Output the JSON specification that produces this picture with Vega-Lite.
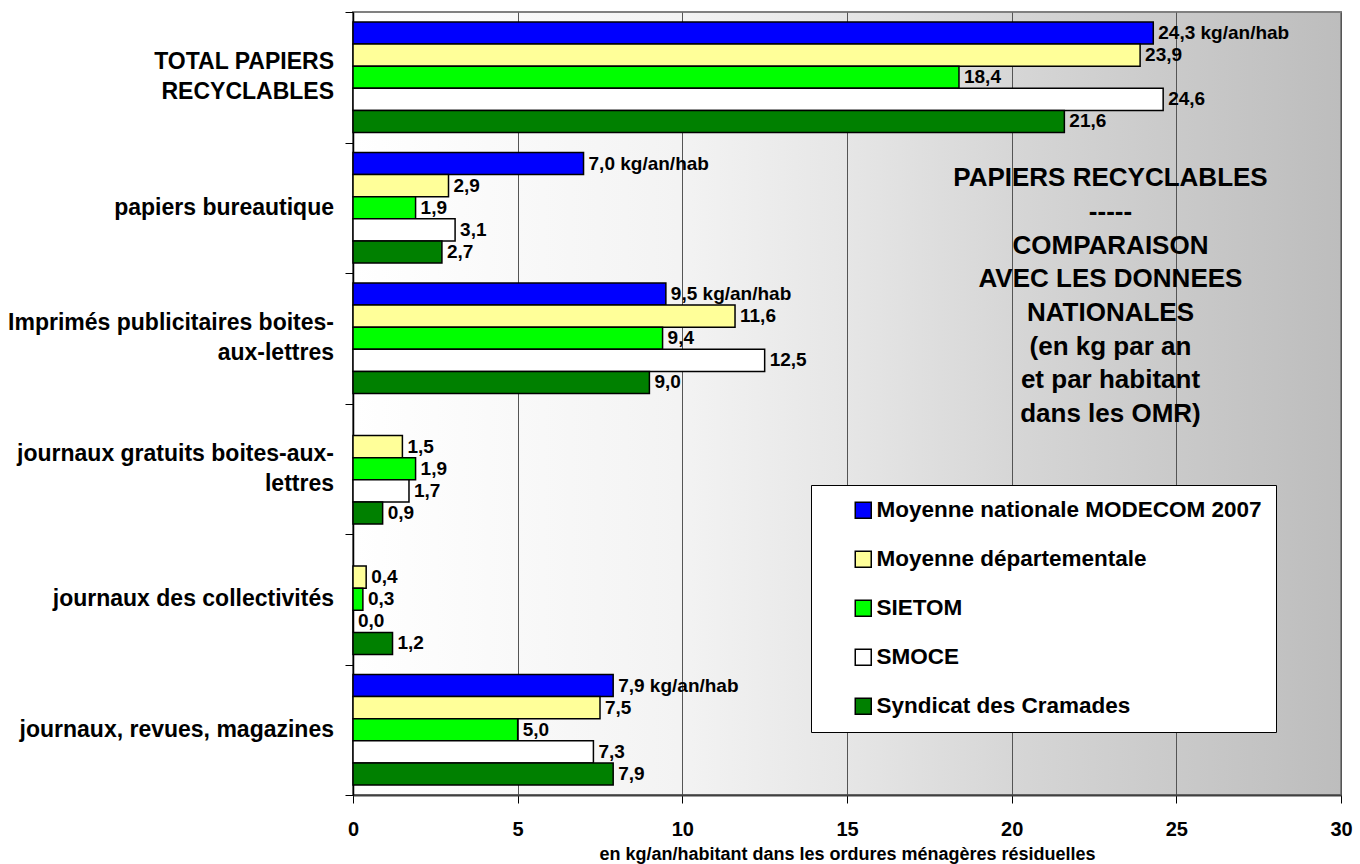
{
  "$schema": "https://vega.github.io/schema/vega-lite/v6.json",
  "width": 988,
  "height": 783,
  "autosize": {"type": "none"},
  "padding": {"left": 353, "top": 12, "right": 19, "bottom": 69},
  "background": "white",
  "config": {
    "font": "Liberation Sans",
    "view": {
      "stroke": "#808080",
      "strokeWidth": 2,
      "fill": {
        "gradient": "linear",
        "x1": 0, "y1": 0, "x2": 1, "y2": 0,
        "stops": [
          {"offset": 0, "color": "#ffffff"},
          {"offset": 0.33, "color": "#f3f3f3"},
          {"offset": 0.5, "color": "#e6e6e6"},
          {"offset": 0.67, "color": "#d6d6d6"},
          {"offset": 1, "color": "#bdbdbd"}
        ]
      }
    }
  },
  "data": {
    "values": [
      {"cat": "TOTAL PAPIERS|RECYCLABLES", "serie": "Moyenne nationale MODECOM 2007", "v": 24.3, "label": "24,3 kg/an/hab"},
      {"cat": "TOTAL PAPIERS|RECYCLABLES", "serie": "Moyenne départementale", "v": 23.9, "label": "23,9"},
      {"cat": "TOTAL PAPIERS|RECYCLABLES", "serie": "SIETOM", "v": 18.4, "label": "18,4"},
      {"cat": "TOTAL PAPIERS|RECYCLABLES", "serie": "SMOCE", "v": 24.6, "label": "24,6"},
      {"cat": "TOTAL PAPIERS|RECYCLABLES", "serie": "Syndicat des Cramades", "v": 21.6, "label": "21,6"},
      {"cat": "papiers bureautique", "serie": "Moyenne nationale MODECOM 2007", "v": 7.0, "label": "7,0 kg/an/hab"},
      {"cat": "papiers bureautique", "serie": "Moyenne départementale", "v": 2.9, "label": "2,9"},
      {"cat": "papiers bureautique", "serie": "SIETOM", "v": 1.9, "label": "1,9"},
      {"cat": "papiers bureautique", "serie": "SMOCE", "v": 3.1, "label": "3,1"},
      {"cat": "papiers bureautique", "serie": "Syndicat des Cramades", "v": 2.7, "label": "2,7"},
      {"cat": "Imprimés publicitaires boites-|aux-lettres", "serie": "Moyenne nationale MODECOM 2007", "v": 9.5, "label": "9,5 kg/an/hab"},
      {"cat": "Imprimés publicitaires boites-|aux-lettres", "serie": "Moyenne départementale", "v": 11.6, "label": "11,6"},
      {"cat": "Imprimés publicitaires boites-|aux-lettres", "serie": "SIETOM", "v": 9.4, "label": "9,4"},
      {"cat": "Imprimés publicitaires boites-|aux-lettres", "serie": "SMOCE", "v": 12.5, "label": "12,5"},
      {"cat": "Imprimés publicitaires boites-|aux-lettres", "serie": "Syndicat des Cramades", "v": 9.0, "label": "9,0"},
      {"cat": "journaux gratuits boites-aux-|lettres", "serie": "Moyenne départementale", "v": 1.5, "label": "1,5"},
      {"cat": "journaux gratuits boites-aux-|lettres", "serie": "SIETOM", "v": 1.9, "label": "1,9"},
      {"cat": "journaux gratuits boites-aux-|lettres", "serie": "SMOCE", "v": 1.7, "label": "1,7"},
      {"cat": "journaux gratuits boites-aux-|lettres", "serie": "Syndicat des Cramades", "v": 0.9, "label": "0,9"},
      {"cat": "journaux des collectivités", "serie": "Moyenne départementale", "v": 0.4, "label": "0,4"},
      {"cat": "journaux des collectivités", "serie": "SIETOM", "v": 0.3, "label": "0,3"},
      {"cat": "journaux des collectivités", "serie": "SMOCE", "v": 0.0, "label": "0,0"},
      {"cat": "journaux des collectivités", "serie": "Syndicat des Cramades", "v": 1.2, "label": "1,2"},
      {"cat": "journaux, revues, magazines", "serie": "Moyenne nationale MODECOM 2007", "v": 7.9, "label": "7,9 kg/an/hab"},
      {"cat": "journaux, revues, magazines", "serie": "Moyenne départementale", "v": 7.5, "label": "7,5"},
      {"cat": "journaux, revues, magazines", "serie": "SIETOM", "v": 5.0, "label": "5,0"},
      {"cat": "journaux, revues, magazines", "serie": "SMOCE", "v": 7.3, "label": "7,3"},
      {"cat": "journaux, revues, magazines", "serie": "Syndicat des Cramades", "v": 7.9, "label": "7,9"}
    ]
  },
  "layer": [
    {
      "mark": {"type": "bar", "stroke": "black", "strokeWidth": 1.5},
      "encoding": {
        "x": {
          "field": "v", "type": "quantitative",
          "scale": {"domain": [0, 30], "nice": false},
          "axis": {
            "values": [0, 5, 10, 15, 20, 25, 30],
            "title": "en kg/an/habitant dans les ordures ménagères résiduelles",
            "titleFont": "Liberation Sans", "titleFontSize": 18, "titleFontWeight": "bold", "titleColor": "black", "titlePadding": 6,
            "labelFont": "Liberation Sans", "labelFontSize": 20, "labelFontWeight": "bold", "labelColor": "black", "labelPadding": 16, "labelFlush": false,
            "tickSize": 8, "tickColor": "black", "tickWidth": 1,
            "domainColor": "#404040", "domainWidth": 2,
            "grid": true, "gridColor": "#555555", "gridWidth": 1
          }
        },
        "y": {
          "field": "cat", "type": "nominal", "sort": null,
          "scale": {
            "domain": ["TOTAL PAPIERS|RECYCLABLES", "papiers bureautique", "Imprimés publicitaires boites-|aux-lettres", "journaux gratuits boites-aux-|lettres", "journaux des collectivités", "journaux, revues, magazines"],
            "paddingInner": 0, "paddingOuter": 0
          },
          "axis": {
            "title": null,
            "labels": false,
            "tickSize": 8, "tickColor": "black", "tickBand": "extent",
            "domainColor": "black", "domainWidth": 1.5, "grid": false
          }
        },
        "yOffset": {
          "field": "serie", "type": "nominal",
          "scale": {
            "domain": ["Moyenne nationale MODECOM 2007", "Moyenne départementale", "SIETOM", "SMOCE", "Syndicat des Cramades"],
            "paddingInner": 0, "paddingOuter": 0.45
          }
        },
        "color": {
          "field": "serie", "type": "nominal",
          "scale": {
            "domain": ["Moyenne nationale MODECOM 2007", "Moyenne départementale", "SIETOM", "SMOCE", "Syndicat des Cramades"],
            "range": ["#0000ff", "#ffff99", "#00ff00", "#ffffff", "#008000"]
          },
          "legend": {
            "orient": "none", "legendX": 458, "legendY": 473,
            "title": null,
            "symbolType": "square", "symbolSize": 256,
            "symbolStrokeColor": "black", "symbolStrokeWidth": 1.5, "symbolOpacity": 1,
            "labelFont": "Liberation Sans", "labelFontSize": 22.5, "labelFontWeight": "bold", "labelColor": "black", "labelLimit": 0, "labelOffset": 2,
            "rowPadding": 26, "padding": 14, "symbolOffset": 27,
            "fillColor": "white", "strokeColor": "black"
          }
        }
      }
    },
    {
      "data": {"values": [
        {"cat": "papiers bureautique", "lines": "papiers bureautique"},
        {"cat": "journaux des collectivités", "lines": "journaux des collectivités"},
        {"cat": "journaux, revues, magazines", "lines": "journaux, revues, magazines"}
      ]},
      "mark": {"type": "text", "align": "right", "baseline": "middle", "dx": -19, "font": "Liberation Sans", "fontSize": 23, "fontWeight": "bold", "color": "black"},
      "encoding": {
        "x": {"datum": 0, "type": "quantitative"},
        "y": {"field": "cat", "type": "nominal", "sort": null},
        "text": {"field": "lines"}
      }
    },
    {
      "data": {"values": [
        {"cat": "TOTAL PAPIERS|RECYCLABLES", "lines": ["TOTAL PAPIERS", "RECYCLABLES "]},
        {"cat": "Imprimés publicitaires boites-|aux-lettres", "lines": ["Imprimés publicitaires boites-", "aux-lettres"]},
        {"cat": "journaux gratuits boites-aux-|lettres", "lines": ["journaux gratuits boites-aux-", "lettres"]}
      ]},
      "mark": {"type": "text", "align": "right", "baseline": "middle", "dx": -19, "dy": -15, "lineHeight": 30, "font": "Liberation Sans", "fontSize": 23, "fontWeight": "bold", "color": "black"},
      "encoding": {
        "x": {"datum": 0, "type": "quantitative"},
        "y": {"field": "cat", "type": "nominal", "sort": null},
        "text": {"field": "lines"}
      }
    },
    {
      "data": {"values": [{"note": "PAPIERS RECYCLABLES\n-----\nCOMPARAISON\nAVEC LES DONNEES\nNATIONALES\n(en kg par an\net par habitant\ndans les OMR)"}]},
      "mark": {"type": "text", "lineBreak": "\n", "font": "Liberation Sans", "fontSize": 26, "fontWeight": "bold", "lineHeight": 33.7, "align": "center", "baseline": "middle", "color": "black", "dy": -160},
      "encoding": {
        "x": {"datum": 23, "type": "quantitative"},
        "y": {"datum": "Imprimés publicitaires boites-|aux-lettres", "type": "nominal"},
        "text": {"field": "note"}
      }
    },
    {
      "mark": {"type": "text", "align": "left", "baseline": "middle", "dx": 5, "font": "Liberation Sans", "fontSize": 19, "fontWeight": "bold", "color": "black"},
      "encoding": {
        "x": {"field": "v", "type": "quantitative"},
        "y": {"field": "cat", "type": "nominal", "sort": null},
        "yOffset": {"field": "serie", "type": "nominal"},
        "text": {"field": "label"}
      }
    }
  ]
}
